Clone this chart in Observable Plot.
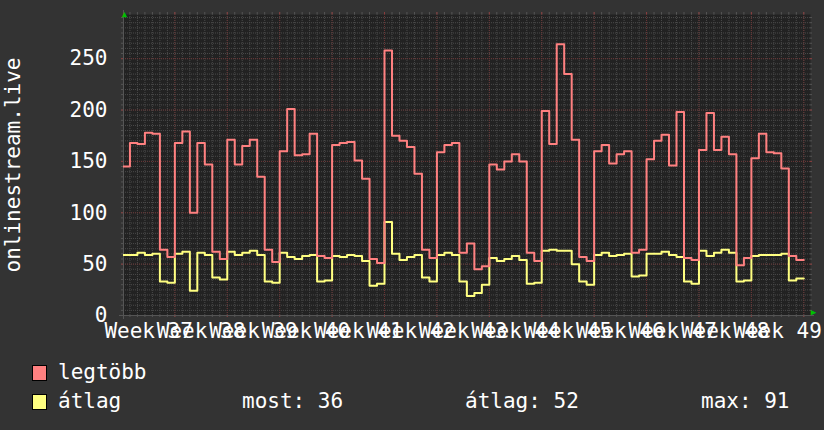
<!DOCTYPE html>
<html><head><meta charset="utf-8">
<script src="https://cdn.jsdelivr.net/npm/d3@7"></script>
<script src="https://cdn.jsdelivr.net/npm/@observablehq/plot@0.6"></script>
<style>
html,body{margin:0;padding:0;background:#333;}
#wrap{position:relative;width:824px;height:430px;background:#333;overflow:hidden;}
#chart svg,#legend svg{display:block;}
</style></head>
<body><div id="wrap"><div id="chart"></div><div id="legend"></div></div>
<script>
// ---- data ----
const firstWeek = 37;          // week that starts at the left edge
const daysPerWeek = 7;
const weekNumbers = [37, 38, 39, 40, 41, 42, 43, 44, 45, 46, 47, 48, 49];
const maxValues = [
  145, 168, 167, 178, 177, 64, 57,
  168, 179, 100, 168, 147, 62, 55,
  171, 147, 165, 171, 135, 64, 52,
  160, 201, 156, 157, 177, 58, 56,
  166, 168, 169, 151, 133, 55, 51,
  258, 175, 170, 164, 138, 64, 56,
  159, 166, 168, 61, 70, 45, 48,
  147, 142, 150, 157, 150, 61, 53,
  199, 167, 264, 235, 171, 57, 53,
  160, 166, 148, 157, 160, 61, 64,
  152, 170, 176, 146, 198, 56, 54,
  161, 197, 161, 174, 157, 49, 56,
  153, 177, 159, 158, 143, 58, 54
];
const avgValues = [
  59, 59, 61, 59, 60, 33, 32,
  60, 62, 24, 61, 59, 37, 35,
  62, 59, 61, 63, 59, 33, 32,
  61, 57, 55, 58, 59, 33, 34,
  58, 57, 59, 58, 53, 29, 31,
  91, 60, 54, 57, 59, 37, 33,
  59, 61, 59, 33, 19, 22, 30,
  56, 53, 55, 58, 54, 31, 32,
  63, 64, 63, 63, 50, 33, 30,
  59, 61, 58, 59, 60, 38, 39,
  60, 60, 62, 59, 57, 33, 31,
  63, 58, 61, 64, 61, 33, 34,
  58, 59, 59, 59, 60, 34, 36
];
const seriesNames = ["legtöbb", "átlag"];
const seriesColors = ["#ff8080", "#ffff80"];
const statLabels = ["most: 36", "átlag: 52", "max: 91"];
const yTicks = [0, 50, 100, 150, 200, 250];
const yTitle = "onlinestream.live";

// ---- helpers ----
function toSteps(vals) {
  const pts = vals.map((v, i) => ({x: firstWeek + i / daysPerWeek, v}));
  pts.push({x: firstWeek + vals.length / daysPerWeek, v: vals[vals.length - 1]});
  return pts;
}
const maxSteps = toSteps(maxValues);
const avgSteps = toSteps(avgValues);

const xDomain = [firstWeek + 0.02, firstWeek + 13.128];
const yDomain = [0, 293];
const dayGrid = d3.range(0, 13 * daysPerWeek + 1).map(i => firstWeek + i / daysPerWeek).filter(d => d >= xDomain[0] && d <= xDomain[1]);
const weekGrid = d3.range(firstWeek + 1, firstWeek + 14);
const minorY = d3.range(0, 291, 5);

const FONT = "DejaVu Sans Mono";
const minorColor = "#4a4a4a";
const majorColor = "#6a3535";

const chart = Plot.plot({
  width: 824,
  height: 350,
  marginLeft: 123,
  marginRight: 14,
  marginTop: 14,
  marginBottom: 35,
  style: {background: "none", fontFamily: FONT, fontSize: "21px", color: "#fff"},
  x: {domain: xDomain, axis: null, label: null},
  y: {domain: yDomain, axis: null, label: null},
  marks: [
    Plot.frame({fill: "#222", stroke: null}),
    // minor grid
    Plot.ruleX(dayGrid, {stroke: minorColor, strokeDasharray: "1,1"}),
    Plot.ruleY(minorY, {stroke: minorColor, strokeDasharray: "1,1"}),
    // minor ticks outside the frame
    Plot.ruleX(dayGrid, {stroke: "#555", insetTop: -2, insetBottom: 301}),
    Plot.ruleX(dayGrid, {stroke: "#555", insetTop: 301, insetBottom: -2}),
    Plot.ruleY(minorY, {stroke: "#555", insetLeft: -2, insetRight: 687}),
    Plot.ruleY(minorY, {stroke: "#555", insetLeft: 687, insetRight: -2}),
    // major grid
    Plot.ruleX(weekGrid, {stroke: majorColor, strokeDasharray: "1,1"}),
    Plot.ruleY(yTicks, {stroke: majorColor, strokeDasharray: "1,1"}),
    Plot.ruleX(weekGrid, {stroke: "#8a3c3c", insetTop: -2, insetBottom: 301}),
    Plot.ruleX(weekGrid, {stroke: "#8a3c3c", insetTop: 301, insetBottom: -2}),
    Plot.ruleY(yTicks, {stroke: "#8a3c3c", insetLeft: -2, insetRight: 687}),
    Plot.ruleY(yTicks, {stroke: "#8a3c3c", insetLeft: 687, insetRight: -2}),
    // axes lines
    Plot.ruleY([0], {stroke: "#555", insetLeft: -4, insetRight: -4}),
    Plot.ruleX([xDomain[0]], {stroke: "#555", insetTop: -4, insetBottom: -4}),
    // data
    Plot.line(avgSteps, {x: "x", y: "v", curve: "step-after", stroke: seriesColors[1], strokeWidth: 2, clip: true}),
    Plot.line(maxSteps, {x: "x", y: "v", curve: "step-after", stroke: seriesColors[0], strokeWidth: 2, clip: true}),
    // arrows
    Plot.text(["▲"], {frameAnchor: "top-left", textAnchor: "middle", dx: 1, dy: -3.5, fill: "#00c000", fontSize: 9}),
    Plot.text(["▶"], {frameAnchor: "bottom-right", textAnchor: "middle", dx: 3, dy: -0.5, fill: "#00c000", fontSize: 9}),
    // y axis labels
    Plot.axisY(yTicks, {tickSize: 0, tickPadding: 16, label: null, fill: "#fff", fontSize: 21, fontFamily: FONT}),
    // x labels (centered in each week)
    Plot.text(weekNumbers, {x: d => d + 0.5, frameAnchor: "bottom", lineAnchor: "bottom", dy: 22,
      text: d => "Week " + d, fill: "#fff", fontSize: 21, fontFamily: FONT}),
    // y title
    Plot.text([yTitle], {frameAnchor: "left", textAnchor: "middle", dx: -110, rotate: -90, lineAnchor: "middle",
      fill: "#fff", fontSize: 21, fontFamily: FONT})
  ]
});
document.getElementById("chart").appendChild(chart);

// ---- legend ----
const lg = d3.select("#legend").append("svg").attr("width", 824).attr("height", 80)
  .style("font-family", FONT).style("font-size", "21px");
const rows = [{name: seriesNames[0], color: seriesColors[0], y: 29},
              {name: seriesNames[1], color: seriesColors[1], y: 58}];
rows.forEach(r => {
  lg.append("rect").attr("x", 32.5).attr("y", r.y - 13.5).attr("width", 14).attr("height", 15)
    .attr("fill", r.color).attr("stroke", "#000");
  lg.append("text").attr("x", 58).attr("y", r.y).attr("fill", "#fff").text(r.name);
});
const statX = [242, 465, 701];
statLabels.forEach((s, i) => {
  lg.append("text").attr("x", statX[i]).attr("y", 58).attr("fill", "#fff").text(s);
});
</script>
</body></html>
